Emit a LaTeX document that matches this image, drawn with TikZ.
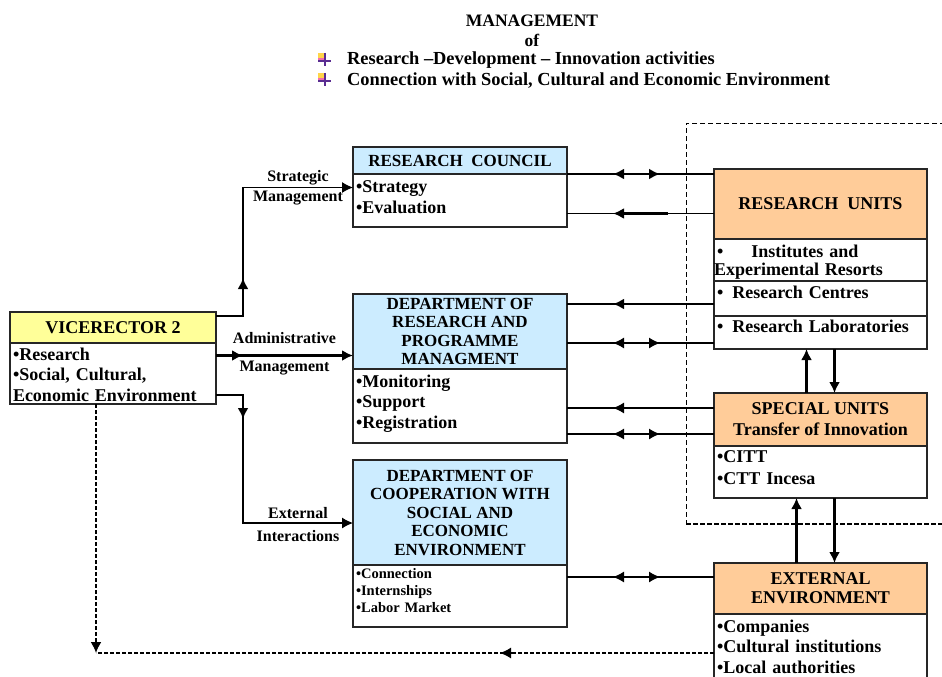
\documentclass[tikz,border=0pt]{standalone}
\usepackage{fontspec}
\setmainfont{Liberation Serif}
\usetikzlibrary{positioning,arrows.meta}
\definecolor{headblue}{HTML}{CCECFF}
\definecolor{headyellow}{HTML}{FFFF99}
\definecolor{headorange}{HTML}{FFCC99}
\definecolor{markpurple}{HTML}{5A2D91}
\definecolor{markpink}{HTML}{F26DAA}
\definecolor{markyellow}{HTML}{FFD54A}
\newcommand{\ttlfont}{\fontsize{17.5}{20}\selectfont\bfseries}
\newcommand{\goalfont}{\fontsize{18.4}{20}\selectfont\bfseries}
\newcommand{\hdfont}{\fontsize{17}{18.5}\selectfont\bfseries}
\newcommand{\bigfont}{\fontsize{18}{21}\selectfont\bfseries}
\newcommand{\bdfont}{\fontsize{18}{20.5}\selectfont\bfseries}
\newcommand{\smfont}{\fontsize{14.5}{17}\selectfont\bfseries}
\newcommand{\lbfont}{\fontsize{16}{17}\selectfont\bfseries}
\tikzset{
  >={Latex[length=11pt,width=11pt]},
  box/.style={draw=black!85,line width=1.3pt,outer sep=0pt,inner sep=0pt},
  headbox/.style={box,minimum width=#1,align=center,font=\hdfont},
  bodybox/.style={box,fill=white,text width=#1,inner xsep=3pt,align=left,font=\bdfont},
  link/.style={line width=1.1pt},
  heavy/.style={line width=2.8pt},
  dashlink/.style={line width=1.8pt,dash pattern=on 4pt off 2pt},
  frame/.style={line width=0.9pt,dash pattern=on 5pt off 3pt},
  framebold/.style={line width=1.8pt,dash pattern=on 5pt off 2pt},
  lbl/.style={font=\lbfont,inner sep=1pt},
  goalmark/.pic={
    \fill[markyellow] (-6,-7) rectangle (1,0);
    \fill[markpink] (-6,-2) rectangle (1,2);
    \draw[markpurple,line width=1.6pt] (1,-7) -- (1,6) (-6,1) -- (7,1);
  }
}

\begin{document}
\begin{tikzpicture}[x=1pt,y=-1pt]
\useasboundingbox (0,0) rectangle (942,677);
\clip (0,0) rectangle (942,677);
\fill[white] (0,0) rectangle (942,677);

% title
\node[font=\ttlfont,align=center,anchor=north,inner sep=0pt] (ttl) at (532,15) {MANAGEMENT\\of};
\node[font=\goalfont,anchor=base west,inner sep=0pt] (goal1) at (347,65) {Research –Development – Innovation activities};
\node[font=\goalfont,anchor=base west,inner sep=0pt] (goal2) at (347,85) {Connection with Social, Cultural and Economic Environment};
\pic at ([xshift=-23pt,yshift=5pt]goal1.base west) {goalmark};
\pic at ([xshift=-23pt,yshift=5pt]goal2.base west) {goalmark};

% dashed frame round the units
\draw[frame] (945,123) -| (686,524);
\draw[framebold] (686,524) -- (945,524);

% vicerector
\node[headbox=206pt,font=\bigfont,fill=headyellow,minimum height=31pt,anchor=north west] (vh) at (10,312) {VICERECTOR 2};
\node[bodybox=200pt,minimum height=61pt,text depth=39pt,below=0pt of vh] (vb) {•Research\\•Social, Cultural,\\Economic Environment};

% middle column
\node[headbox=214pt,fill=headblue,minimum height=27pt,anchor=north west] (rch) at (353,147) {RESEARCH\ \ COUNCIL};
\node[bodybox=208pt,minimum height=53pt,text depth=27pt,below=0pt of rch] (rcb) {•Strategy\\•Evaluation};

\node[headbox=214pt,fill=headblue,minimum height=75pt,anchor=north west] (drph) at (353,294) {DEPARTMENT OF\\RESEARCH AND\\PROGRAMME\\MANAGMENT};
\node[bodybox=208pt,minimum height=74pt,text depth=50pt,below=0pt of drph] (drpb) {•Monitoring\\•Support\\•Registration};

\node[headbox=214pt,fill=headblue,minimum height=105pt,anchor=north west] (dch) at (353,460) {DEPARTMENT OF\\COOPERATION WITH\\SOCIAL AND\\ECONOMIC\\ENVIRONMENT};
\node[bodybox=208pt,font=\smfont,minimum height=62pt,text depth=46pt,below=0pt of dch] (dcb) {•Connection\\•Internships\\•Labor Market};

% right column
\node[headbox=213pt,font=\bigfont,fill=headorange,minimum height=70pt,anchor=north west] (ruh) at (714,169) {RESEARCH\ \ UNITS};
\node[bodybox=207pt,font=\fontsize{18}{19}\selectfont\bfseries,minimum height=42pt,text depth=18pt,below=0pt of ruh] (rub1) {•\hspace{28pt}Institutes and\\[-1pt]\hspace*{-3pt}Experimental Resorts};
\node[bodybox=207pt,minimum height=35pt,text depth=13pt,below=0pt of rub1] (rub2) {•\hspace{9pt}Research Centres};
\node[bodybox=207pt,minimum height=33pt,text depth=13pt,below=0pt of rub2] (rub3) {•\hspace{9pt}Research Laboratories};

\node[headbox=213pt,font=\bigfont,fill=headorange,minimum height=53pt,anchor=north west] (suh) at (714,393) {SPECIAL UNITS\\Transfer of Innovation};
\node[bodybox=207pt,minimum height=52pt,text depth=30pt,below=0pt of suh] (sub) {•CITT\\[1pt]•CTT Incesa};

\node[headbox=213pt,font=\fontsize{18}{19}\selectfont\bfseries,fill=headorange,minimum height=51pt,anchor=north west] (exth) at (714,563) {EXTERNAL\\ENVIRONMENT};
\node[bodybox=207pt,minimum height=68pt,text depth=44pt,below=0pt of exth] (extb) {•Companies\\•Cultural institutions\\•Local authorities};

% links between the middle and the right column
\coordinate (evalpt) at ([yshift=-13pt]rcb.east);
\coordinate (cenpt) at ([yshift=-10pt]drph.north east);
\coordinate (labpt) at ([yshift=-11.5pt]drph.east);
\coordinate (suppt) at ([yshift=-2pt]drpb.east);
\coordinate (regpt) at ([yshift=9pt]drpb.south east);
\coordinate (conpt) at ([yshift=-12pt]dcb.north east);
\draw[link] (rch.south east) -- (rch.south east -| ruh.west);
\draw[heavy,<->] ([xshift=46pt]rch.south east) -- ([xshift=93pt]rch.south east);
\draw[link] (evalpt) -- (evalpt -| ruh.west);
\draw[heavy,->] ([xshift=101pt]evalpt) -- ([xshift=46pt]evalpt);
\draw[link] (cenpt) -- (cenpt -| rub2.west);
\draw[heavy,->] ([xshift=101pt]cenpt) -- ([xshift=46pt]cenpt);
\draw[link] (labpt) -- (labpt -| rub3.west);
\draw[link,<->] ([xshift=46pt]labpt) -- ([xshift=93pt]labpt);
\draw[link] (suppt) -- (suppt -| suh.west);
\draw[link,->] ([xshift=70pt]suppt) -- ([xshift=46pt]suppt);
\draw[link] (regpt) -- (regpt -| suh.west);
\draw[link,<->] ([xshift=46pt]regpt) -- ([xshift=93pt]regpt);
\draw[link] (conpt) -- (conpt -| exth.west);
\draw[link,<->] ([xshift=46pt]conpt) -- ([xshift=93pt]conpt);

% vertical links of the units
\draw[heavy,->] ([xshift=-14pt]suh.north) -- ([xshift=-14pt]rub3.south);
\draw[heavy,->] ([xshift=14pt]rub3.south) -- ([xshift=14pt]suh.north);
\draw[heavy,->] ([xshift=-24pt]exth.north) -- ([xshift=-24pt]sub.south);
\draw[heavy,->] ([xshift=14pt]sub.south) -- ([xshift=14pt]exth.north);

% vicerector links
\coordinate (fork) at ([xshift=27pt]vh.north east);
\coordinate (vtop) at ([yshift=-4pt]vh.north east);
\coordinate (strat) at ([yshift=13pt]rcb.west);
\coordinate (admin) at ([yshift=18pt]vb.east);
\coordinate (vbot) at ([yshift=9pt]vb.south east);
\coordinate (inter) at ([yshift=-10.5pt]dch.west);
\draw[link,->] (vtop) -| (fork |- strat) -- (strat);
\draw[heavy,->] (vtop -| fork) -- ++(0,-38);
\draw[heavy,->] (admin) -- (admin -| drph.west);
\draw[heavy,->] (admin) -- (admin -| fork);
\draw[link,->] (vbot) -| (fork |- inter) -- (inter);
\draw[heavy,->] (vbot -| fork) -- ++(0,24);
\path (fork |- strat) -- node[lbl,above=1pt] (sttl) {Strategic} node[lbl,below=2pt] (stmg) {Management} (strat);
\path (admin) -- node[lbl,above=11pt] (adtl) {Administrative} node[lbl,below=4pt] (admg) {Management} (admin -| drph.west);
\path (fork |- inter) -- node[lbl,above=3pt] (extl) {External} node[lbl,below=6pt] (exin) {Interactions} (inter);

% dashed feedback
\coordinate (dstart) at ([xshift=86pt]vb.south west);
\coordinate (back) at ([yshift=-5pt]extb.west);
\draw[dashlink,->] (dstart) -- (dstart |- back);
\draw[dashlink] (back) -- (dstart |- back);
\draw[link,->] ([xshift=-200pt]back) -- ([xshift=-214pt]back);
\end{tikzpicture}
\end{document}
